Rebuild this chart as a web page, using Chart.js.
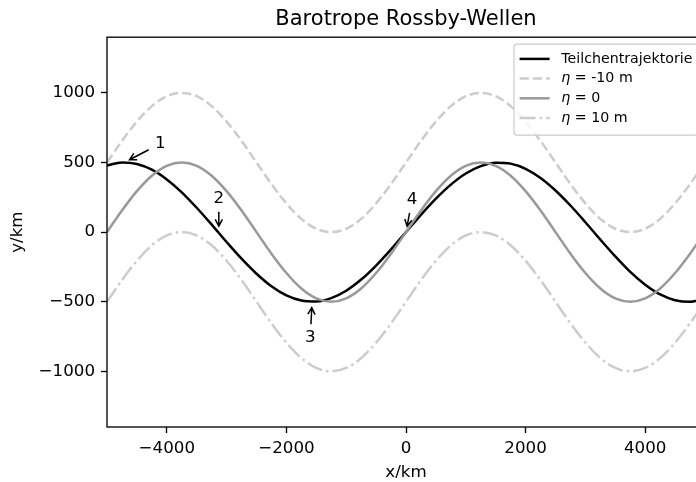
<!DOCTYPE html>
<html>
<head>
<meta charset="utf-8">
<script src="https://cdn.jsdelivr.net/npm/chart.js@4.4.0/dist/chart.umd.min.js"></script>
<style>
html, body { margin: 0; padding: 0; overflow: hidden; background: #fff; }
</style>
</head>
<body>
<canvas id="chart" width="720" height="482"></canvas>
<script>
// x positions (km) and the four curves
const xKm = [-5000, -4750, -4500, -4250, -4000, -3750, -3500, -3250, -3000, -2750, -2500, -2250, -2000, -1750, -1500, -1250, -1000, -750, -500, -250, 0,
    250, 500, 750, 1000, 1250, 1500, 1750, 2000, 2250, 2500, 2750, 3000, 3250, 3500, 3750, 4000, 4250, 4500, 4750, 5000];
const trajectory = [479, 500, 489, 448, 378, 286, 175, 54, -71, -191, -299, -389, -455, -492, -499, -474, -421, -341, -240, -124, 0,
    124, 240, 341, 421, 474, 499, 492, 455, 389, 299, 191, 71, -54, -175, -286, -378, -448, -489, -500, -479];
const etaMinus10 = [500, 655, 794, 905, 976, 1000, 976, 905, 794, 655, 500, 345, 206, 95, 24, 0, 24, 95, 206, 345, 500,
    655, 794, 905, 976, 1000, 976, 905, 794, 655, 500, 345, 206, 95, 24, 0, 24, 95, 206, 345, 500];
const eta0 = [0, 155, 294, 405, 476, 500, 476, 405, 294, 155, 0, -155, -294, -405, -476, -500, -476, -405, -294, -155, 0,
    155, 294, 405, 476, 500, 476, 405, 294, 155, 0, -155, -294, -405, -476, -500, -476, -405, -294, -155, 0];
const etaPlus10 = [-500, -345, -206, -95, -24, 0, -24, -95, -206, -345, -500, -655, -794, -905, -976, -1000, -976, -905, -794, -655, -500,
    -345, -206, -95, -24, 0, -24, -95, -206, -345, -500, -655, -794, -905, -976, -1000, -976, -905, -794, -655, -500];

const xTicks = [-4000, -2000, 0, 2000, 4000];
const yTicks = [-1000, -500, 0, 500, 1000];

// numbered arrows: where they point and where the number sits
const annLabels = ['1', '2', '3', '4'];
const annPointX = [-4712, -3130, -1571, 0];
const annPointY = [500, 0, -500, 0];
const annTextX = [-4110, -3130, -1600, 100];
const annTextY = [635, 240, -755, 230];

const FONT = '"DejaVu Sans", sans-serif';

function xy(ys) {
    return xKm.map((x, i) => ({ x: x, y: ys[i] }));
}

function fmt(v) {
    return String(v).replace('-', '\u2212');
}

// draws a legend label, eta in italic like matplotlib mathtext
function drawLabel(ctx, text, x, y, size, doDraw) {
    let w = 0;
    let rest = text;
    if (text.charAt(0) === 'η') {
        ctx.font = 'italic ' + size + 'px ' + FONT;
        if (doDraw) ctx.fillText('η', x, y);
        w += ctx.measureText('η').width;
        rest = text.slice(1);
    }
    ctx.font = size + 'px ' + FONT;
    if (doDraw) ctx.fillText(rest, x + w, y);
    w += ctx.measureText(rest).width;
    return w;
}

const framePlugin = {
    id: 'frame',
    afterDraw(chart) {
        const ctx = chart.ctx;
        const a = chart.chartArea;
        const sx = chart.scales.x, sy = chart.scales.y;
        ctx.save();

        // axes box
        ctx.strokeStyle = '#000';
        ctx.lineWidth = 1.33;
        ctx.strokeRect(a.left, a.top, a.right - a.left, a.bottom - a.top);

        // annotations
        ctx.fillStyle = '#000';
        ctx.textAlign = 'center';
        ctx.textBaseline = 'middle';
        ctx.font = '16.7px ' + FONT;
        ctx.lineWidth = 1.5;
        for (let i = 0; i < annLabels.length; i++) {
            const tx = sx.getPixelForValue(annTextX[i]);
            const ty = sy.getPixelForValue(annTextY[i]);
            const px = sx.getPixelForValue(annPointX[i]);
            const py = sy.getPixelForValue(annPointY[i]);
            ctx.fillText(annLabels[i], tx, ty);
            const dx = px - tx, dy = py - ty;
            const len = Math.sqrt(dx * dx + dy * dy);
            const ux = dx / len, uy = dy / len;
            const x0 = tx + ux * 13, y0 = ty + uy * 13;
            const x1 = px - ux * 6, y1 = py - uy * 6;
            ctx.beginPath();
            ctx.moveTo(x0, y0);
            ctx.lineTo(x1, y1);
            ctx.moveTo(x1 - ux * 6.7 - uy * 3.6, y1 - uy * 6.7 + ux * 3.6);
            ctx.lineTo(x1, y1);
            ctx.lineTo(x1 - ux * 6.7 + uy * 3.6, y1 - uy * 6.7 - ux * 3.6);
            ctx.stroke();
        }

        // legend box, upper right
        const ds = chart.data.datasets;
        const fs = 14.2, pad = 5.6, handle = 30, gap = 11.7, rowH = 19.7;
        let textW = 0;
        ds.forEach(d => { textW = Math.max(textW, drawLabel(ctx, d.label, 0, 0, fs, false)); });
        const right = a.right - 7;
        const left = right - pad * 2 - textW - gap - handle;
        const top = a.top + 7;
        const h = 91;
        ctx.beginPath();
        ctx.roundRect(left, top, right - left, h, 3);
        ctx.fillStyle = 'rgba(255,255,255,0.8)';
        ctx.fill();
        ctx.strokeStyle = '#cccccc';
        ctx.lineWidth = 1.2;
        ctx.stroke();
        ctx.textAlign = 'left';
        ds.forEach((d, i) => {
            const y = top + 14.7 + i * rowH;
            ctx.beginPath();
            ctx.setLineDash(d.borderDash || []);
            ctx.strokeStyle = d.borderColor;
            ctx.lineWidth = d.borderWidth;
            ctx.moveTo(left + pad, y);
            ctx.lineTo(left + pad + handle, y);
            ctx.stroke();
            ctx.setLineDash([]);
            ctx.fillStyle = '#000';
            drawLabel(ctx, d.label, left + pad + handle + gap, y, fs, true);
        });
        ctx.restore();
    }
};

const ctx = document.getElementById('chart');

new Chart(ctx, {
    type: 'scatter',
    data: {
        datasets: [{
            label: 'Teilchentrajektorie',
            data: xy(trajectory),
            borderColor: '#000000',
            order: 4
        }, {
            label: 'η = -10 m',
            data: xy(etaMinus10),
            borderColor: '#cccccc',
            borderDash: [9.25, 4],
            order: 3
        }, {
            label: 'η = 0',
            data: xy(eta0),
            borderColor: '#999999',
            order: 2
        }, {
            label: 'η = 10 m',
            data: xy(etaPlus10),
            borderColor: '#cccccc',
            borderDash: [16, 4, 2.5, 4],
            order: 1
        }].map(d => Object.assign(d, {
            showLine: true,
            borderWidth: 2.5,
            pointRadius: 0,
            pointHoverRadius: 0,
            cubicInterpolationMode: 'monotone',
            fill: false
        }))
    },
    options: {
        responsive: false,
        animation: false,
        layout: { padding: { left: 0, right: 15, top: 0, bottom: 0 } },
        plugins: {
            legend: { display: false },
            tooltip: { enabled: false },
            title: {
                display: true,
                text: 'Barotrope Rossby-Wellen',
                fullSize: false,
                color: '#000',
                font: { family: FONT, size: 21, weight: 'normal' },
                padding: { top: 7, bottom: 5 }
            }
        },
        scales: {
            x: {
                type: 'linear',
                min: -5000,
                max: 5000,
                afterBuildTicks: s => { s.ticks = xTicks.map(v => ({ value: v })); },
                afterFit: s => { s.height = 55; },
                border: { display: false },
                grid: { drawOnChartArea: false, drawTicks: true, tickLength: 6, tickWidth: 1.33, tickColor: '#000' },
                ticks: {
                    color: '#000', padding: 6, maxRotation: 0, autoSkip: false,
                    font: { family: FONT, size: 16.7 },
                    callback: v => fmt(v)
                },
                title: {
                    display: true, text: 'x/km', color: '#000',
                    font: { family: FONT, size: 16.7 },
                    padding: { top: 0, bottom: -1 }
                }
            },
            y: {
                type: 'linear',
                min: -1400,
                max: 1400,
                afterBuildTicks: s => { s.ticks = yTicks.map(v => ({ value: v })); },
                afterFit: s => { s.width = 107; },
                border: { display: false },
                grid: { drawOnChartArea: false, drawTicks: true, tickLength: 6, tickWidth: 1.33, tickColor: '#000' },
                ticks: {
                    color: '#000', padding: 6, autoSkip: false,
                    font: { family: FONT, size: 16.7 },
                    callback: v => fmt(v)
                },
                title: {
                    display: true, text: 'y/km', color: '#000',
                    font: { family: FONT, size: 16.7 },
                    padding: { top: 8, bottom: 0 }
                }
            }
        }
    },
    plugins: [framePlugin]
});
</script>
</body>
</html>
